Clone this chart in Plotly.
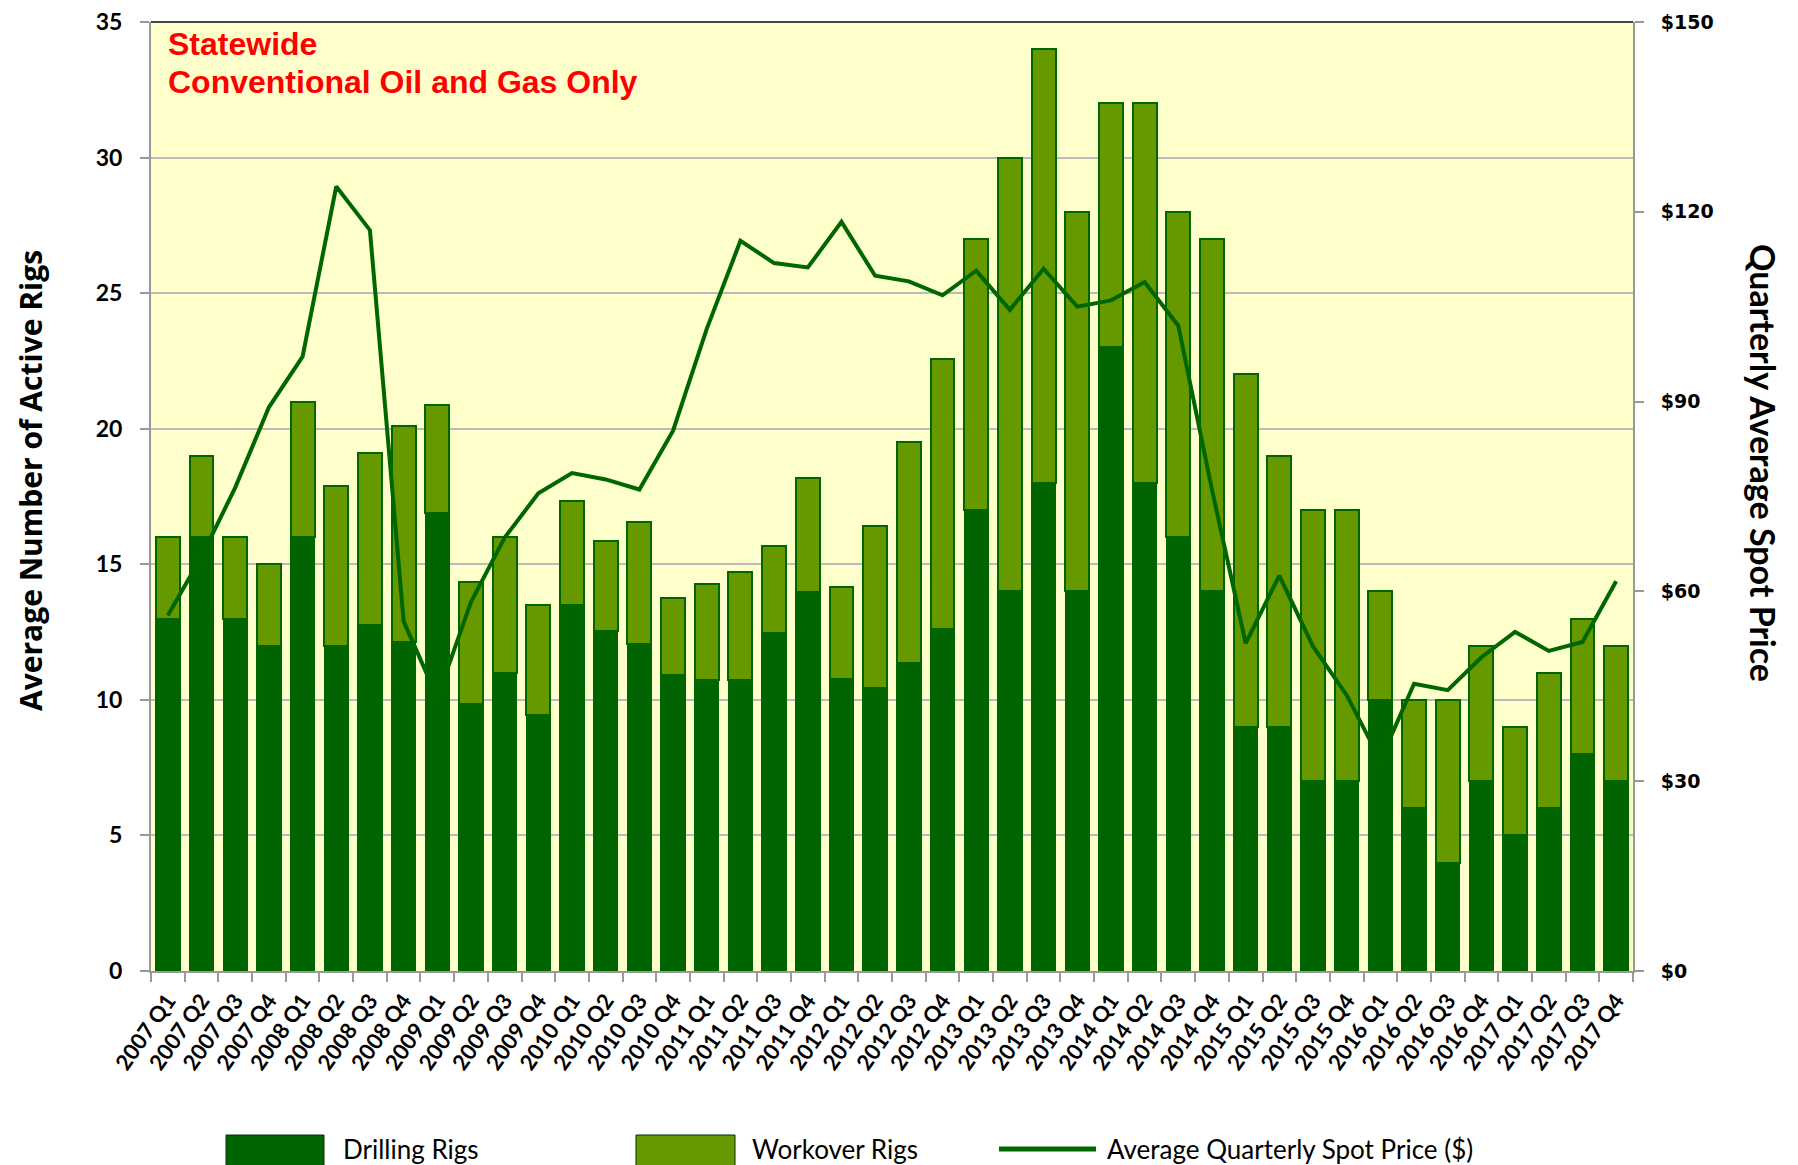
import plotly.graph_objects as go

years = [2007, 2008, 2009, 2010, 2011, 2012, 2013, 2014, 2015, 2016, 2017]
quarters = ["Q1", "Q2", "Q3", "Q4"]
categories = [f"{y} {q}" for y in years for q in quarters]

drilling = [13, 16, 13, 12, 16, 12, 12.75, 12.15, 16.9, 9.85, 11.0, 9.45,
            13.5, 12.55, 12.05, 10.9, 10.73, 10.75, 12.45, 13.97, 10.76, 10.43, 11.36, 12.6,
            17, 14, 18, 14, 23, 18, 16, 14, 9, 9, 7, 7,
            10, 6, 4, 7, 5, 6, 8, 7]
total = [16, 19, 16, 15, 21, 17.87, 19.1, 20.1, 20.88, 14.33, 16.02, 13.49,
         17.33, 15.86, 16.56, 13.75, 14.27, 14.72, 15.66, 18.17, 14.17, 16.4, 19.5, 22.56,
         27, 30, 34, 28, 32, 32, 28, 27, 22, 19, 17, 17,
         14, 10, 10, 12, 9, 11, 13, 12]
workover = [round(t - d, 2) for t, d in zip(total, drilling)]
price = [56.2, 65.5, 76.4, 89.1, 97.1, 124.0, 117.1, 55.3, 43.2, 58.3, 68.5, 75.5,
         78.7, 77.7, 76.1, 85.4, 101.5, 115.4, 111.9, 111.2, 118.4, 109.9, 109.0, 106.8,
         110.7, 104.5, 111.0, 105.0, 106.0, 108.9, 102.0, 76.1, 51.8, 62.5, 51.3, 43.6,
         33.3, 45.4, 44.4, 49.6, 53.6, 50.6, 52.0, 61.6]

left_ticks = [0, 5, 10, 15, 20, 25, 30, 35]
right_ticks = [0, 30, 60, 90, 120, 150]
right_labels = ["$" + str(v) for v in right_ticks]

DARK = "#006400"
OLIVE = "#669900"
EDGE = "#006600"

# page offset (body margin of 8px) handled by sizing the figure
W, H = 1790, 1157
L, T, R, B = 143, 14, 165, 194
P_LEFT, P_TOP = L + 8, T + 8
P_W, P_H = W - L - R, H - T - B

def px(xp):
    return (xp - P_LEFT) / P_W

def py(yp):
    return (P_TOP + P_H - yp) / P_H

fig = go.Figure()
fig.add_trace(go.Bar(x=categories, y=drilling, name="Drilling Rigs",
                     marker=dict(color=DARK, line=dict(color=EDGE, width=1.5)),
                     showlegend=False))
fig.add_trace(go.Bar(x=categories, y=workover, name="Workover Rigs",
                     marker=dict(color=OLIVE, line=dict(color=EDGE, width=2)),
                     showlegend=False))
fig.add_trace(go.Scatter(x=categories, y=price, yaxis="y2", mode="lines",
                         name="Average Quarterly Spot Price ($)",
                         line=dict(color=EDGE, width=4), showlegend=False))

fig.update_layout(
    width=W, height=H,
    margin=dict(l=L, r=R, t=T, b=B),
    paper_bgcolor="white", plot_bgcolor="#FFFFCC",
    barmode="stack", bargap=0.29,
    xaxis=dict(type="category", tickangle=-55, showgrid=False,
               ticks="outside", tickson="boundaries", ticklen=9, tickcolor="#999999", tickwidth=2,
               showline=True, linecolor="#999999", linewidth=2, automargin=False,
               ticklabelstandoff=6,
               tickfont=dict(family="Lato", size=22, color="black", weight="bold")),
    yaxis=dict(range=[0, 35], tickvals=left_ticks, showgrid=True, gridcolor="#BBBBBB", gridwidth=1.5,
               ticks="outside", ticklen=9, tickcolor="#999999", tickwidth=2,
               showline=True, linecolor="#999999", linewidth=2, zeroline=False, automargin=False,
               ticklabelstandoff=13, ticklabeloverflow="allow",
               tickfont=dict(family="Lato", size=23, color="black", weight="bold")),
    yaxis2=dict(range=[0, 150], tickvals=right_ticks, ticktext=right_labels, overlaying="y", side="right",
                showgrid=False, ticks="outside", ticklen=9, tickcolor="#999999", tickwidth=2,
                showline=True, linecolor="#999999", linewidth=2, zeroline=False, automargin=False,
                ticklabelstandoff=13, ticklabeloverflow="allow",
                tickfont=dict(family="DejaVu Sans", size=19, color="black", weight="bold")),
    font=dict(family="Lato", color="black"),
)

# top border of the plot area
fig.add_shape(type="line", xref="paper", yref="paper", x0=0, x1=1, y0=1, y1=1,
              line=dict(color="#444444", width=2))

ann = []
red_font = dict(family="Liberation Sans", size=32, color="#FF0000", weight="bold")
ann.append(dict(text="Statewide", xref="paper", yref="paper",
                x=px(166), y=py(44), xanchor="left", yanchor="middle", showarrow=False, font=red_font))
ann.append(dict(text="Conventional Oil and Gas Only", xref="paper", yref="paper",
                x=px(166), y=py(82), xanchor="left", yanchor="middle", showarrow=False, font=red_font))
ann.append(dict(text="Average Number of Active Rigs", xref="paper", yref="paper",
                x=px(30), y=py(481), textangle=-90, showarrow=False,
                xanchor="center", yanchor="middle",
                font=dict(family="Open Sans", size=30, color="black", weight="bold")))
ann.append(dict(text="Quarterly Average Spot Price", xref="paper", yref="paper",
                x=px(1764), y=py(463), textangle=90, showarrow=False,
                xanchor="center", yanchor="middle",
                font=dict(family="Lato", size=34, color="black", weight="bold")))

legend_items = [("Drilling Rigs", DARK, "box", 226, 324, 17),
                ("Workover Rigs", OLIVE, "box", 636, 735, 15),
                ("Average Quarterly Spot Price ($)", EDGE, "line", 999, 1096, 9)]
for label, col, kind, x0, x1, gap in legend_items:
    if kind == "box":
        fig.add_shape(type="rect", xref="paper", yref="paper", x0=px(x0), x1=px(x1),
                      y0=py(1172), y1=py(1135), fillcolor=col, line=dict(color="#003300", width=1))
    else:
        fig.add_shape(type="line", xref="paper", yref="paper", x0=px(x0), x1=px(x1),
                      y0=py(1149), y1=py(1149), line=dict(color=col, width=5))
    ann.append(dict(text=label, xref="paper", yref="paper", x=px(x1 + gap), y=py(1149),
                    xanchor="left", yanchor="middle", showarrow=False,
                    font=dict(family="Lato", size=26, color="black")))

fig.update_layout(annotations=ann)
fig.write_html("out.html")
